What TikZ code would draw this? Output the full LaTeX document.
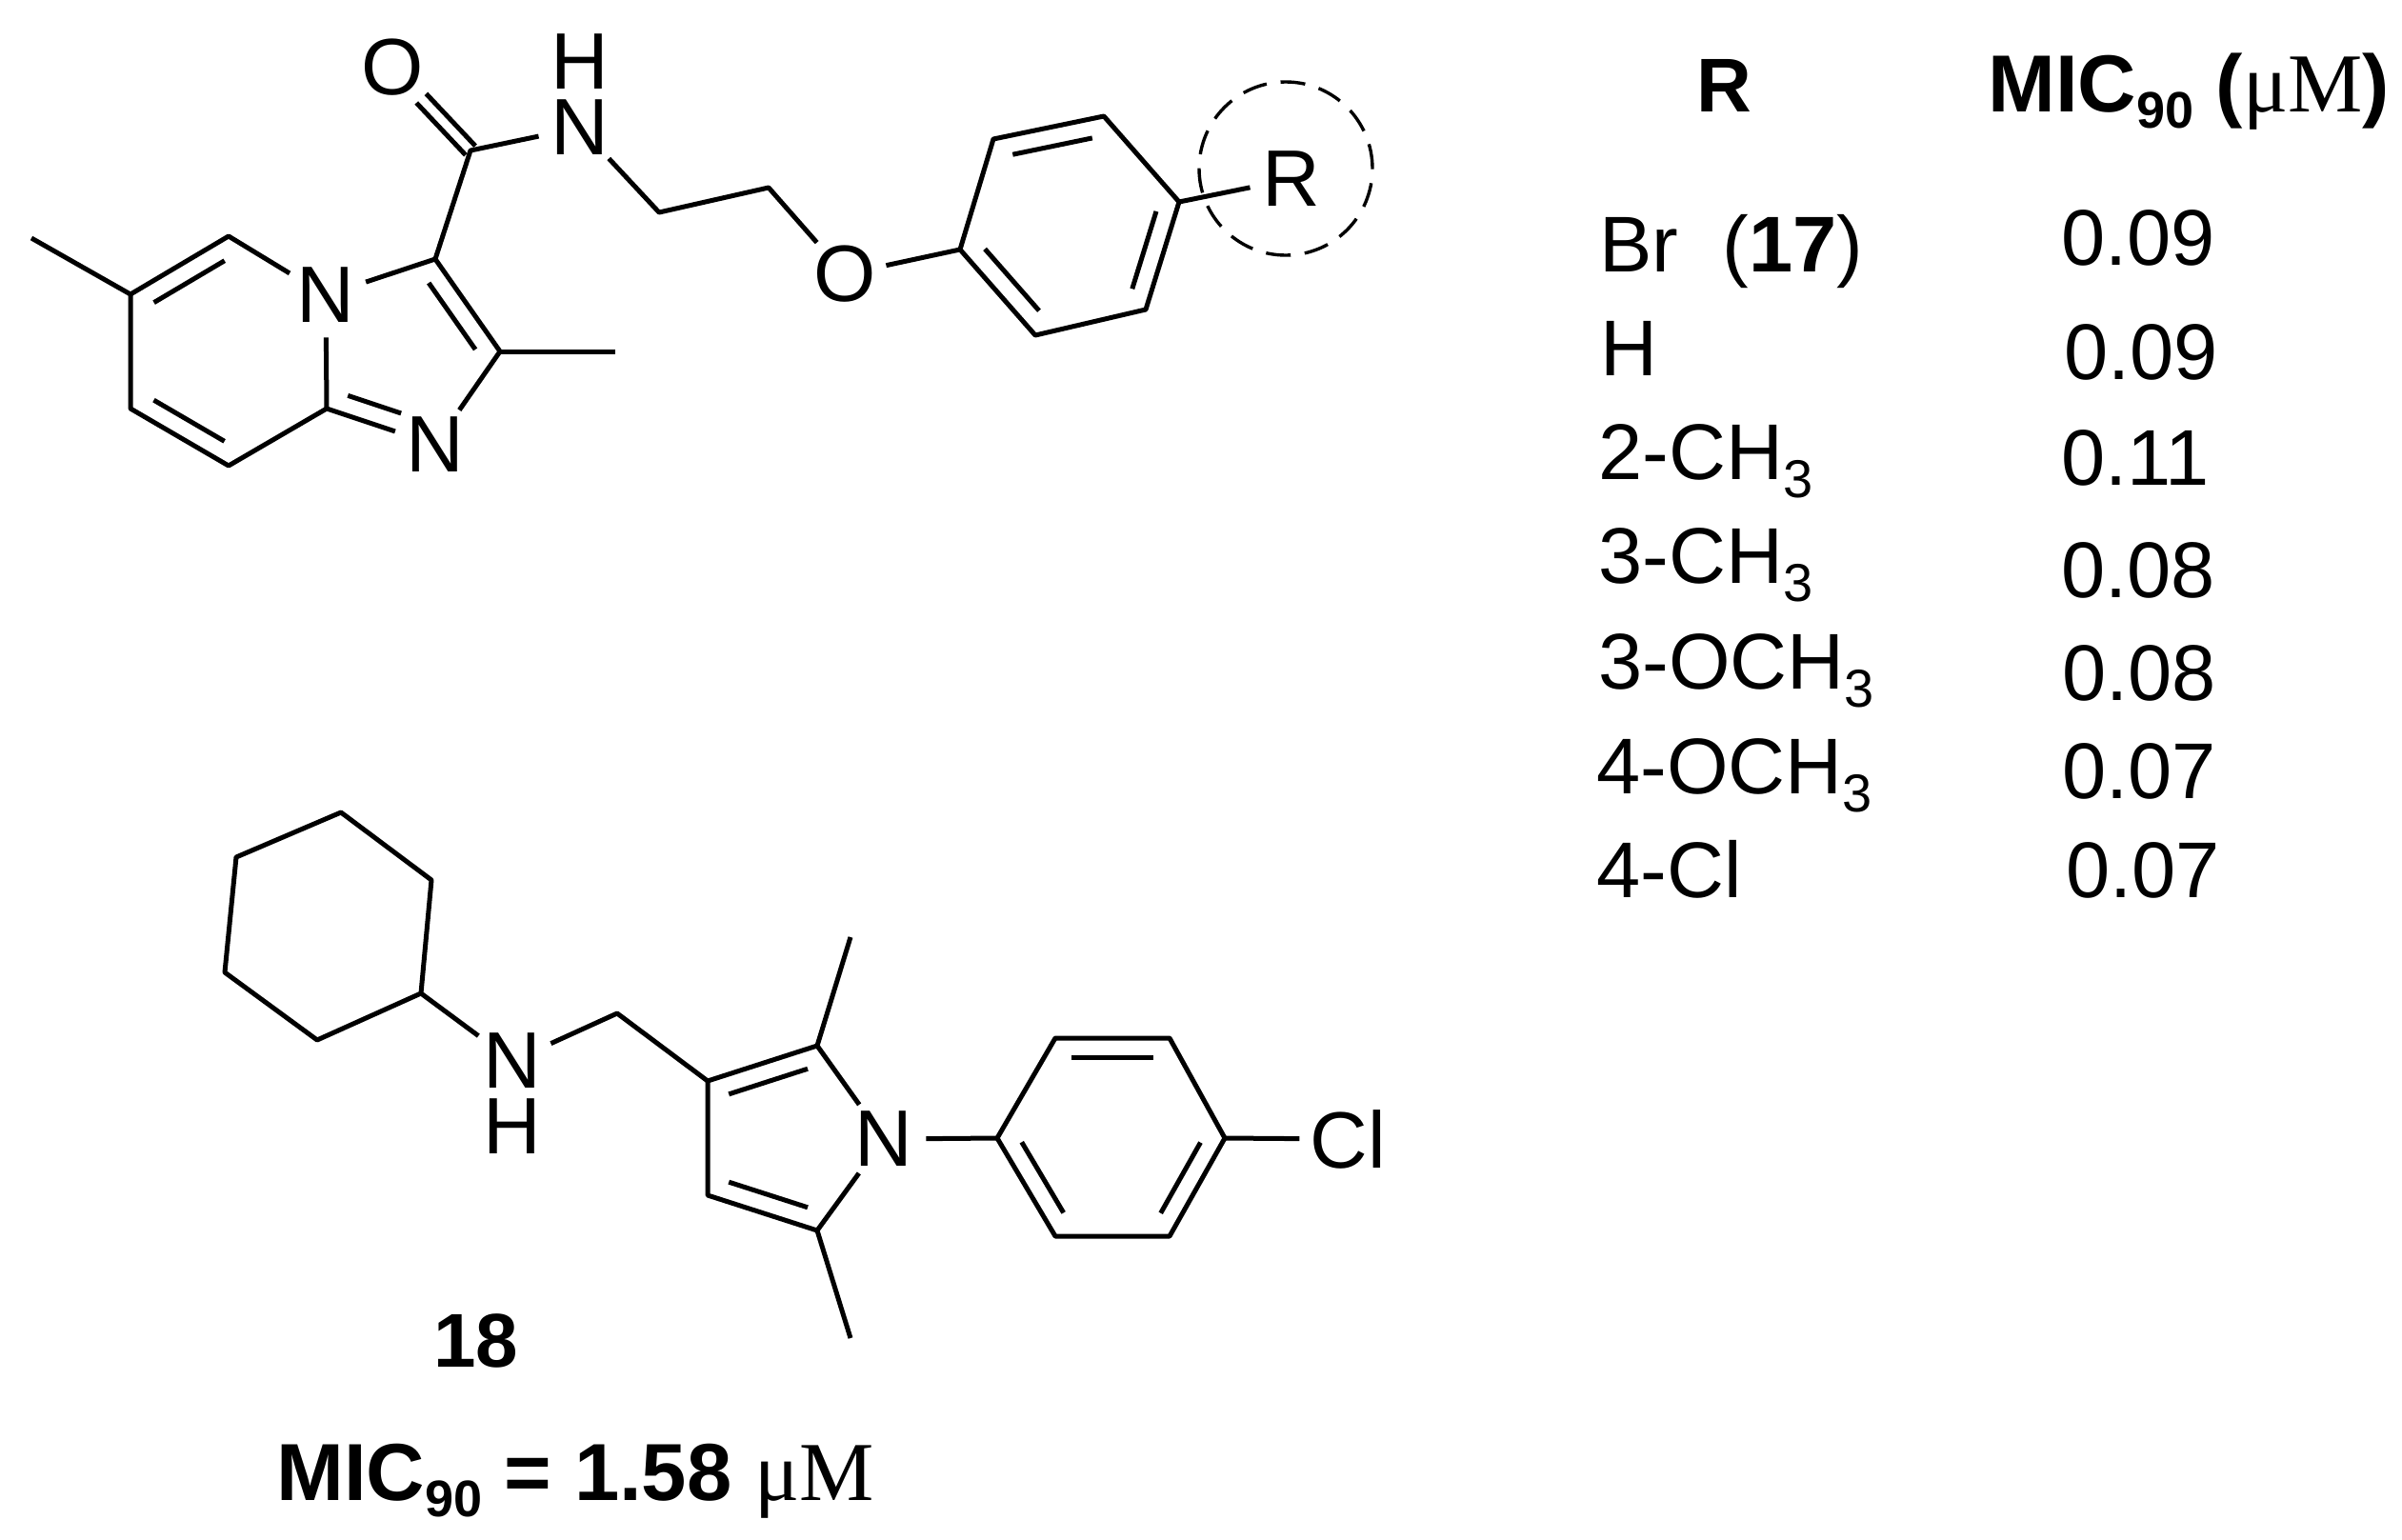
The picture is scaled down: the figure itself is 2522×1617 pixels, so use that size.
\documentclass[tikz,border=0pt]{standalone}
\usepackage{fontspec}
\setmainfont{Liberation Sans}
\newfontfamily\serifgreek{Liberation Serif}
\usetikzlibrary{calc}
\newcommand\sbs[1]{\raisebox{-9.5pt}{\fontsize{28}{30}\selectfont #1}}
\newcommand\bsbs[1]{\raisebox{-8.5pt}{\fontsize{27}{30}\selectfont\bfseries #1}}
\newcommand\mum{{\serifgreek\mdseries\fontsize{44}{48}\selectfont μM}}
\newcommand\bondR[2]{\draw[bond] ($(#1)!.14!(#2)!10pt!-90:(#2)$) -- ($(#2)!.14!(#1)!10pt!90:(#1)$);}
\tikzset{
  bond/.style={line width=2.5pt,line join=round,line cap=butt,black},
  atomlabel/.style={circle,inner sep=0pt,minimum size=44pt,font=\fontsize{42}{48}\selectfont},
  hlabel/.style={inner sep=0pt,font=\fontsize{42}{48}\selectfont},
  tabtext/.style={anchor=base west,inner sep=0pt,font=\fontsize{41.5}{48}\selectfont},
  headtext/.style={anchor=base west,inner sep=0pt,font=\fontsize{42.5}{48}\selectfont\bfseries},
  headshort/.style={anchor=base,inner sep=0pt,font=\fontsize{40}{48}\selectfont\bfseries},
  dashring/.style={line width=1.7pt,dash pattern=on 13pt off 7.4pt}
}
\begin{document}
\begin{tikzpicture}[x=.5pt,y=-.5pt]
\useasboundingbox[fill=white] (0,0) rectangle (2522,1617);
% upper molecule
\coordinate (me6) at (33,250);
\coordinate (c6) at (137,309);
\coordinate (c5) at (240,248);
\node[atomlabel] (n4) at (342,310) {N};
\coordinate (c8a) at (343,429);
\coordinate (c7) at (137,429);
\coordinate (c8) at (240,489);
\node[atomlabel] (n1) at (457,467) {N};
\coordinate (c2) at (525,369);
\coordinate (me2) at (646,369);
\coordinate (c3) at (457,272);
\coordinate (co) at (494,158);
\node[atomlabel] (ox) at (412,71) {O};
\node[atomlabel] (nh) at (609,134) {N};
\node[hlabel] (hh) at (609,65) {H};
\coordinate (ch1) at (692,223);
\coordinate (ch2) at (807,197);
\node[atomlabel] (oe) at (887,288) {O};
\coordinate (a1) at (1008,262);
\coordinate (a2) at (1043,146);
\coordinate (a3) at (1159,122);
\coordinate (a4) at (1238,212);
\coordinate (a5) at (1203,325);
\coordinate (a6) at (1087,352);
\node[atomlabel] (rr) at (1356,188) {R};
\node[draw,circle,dashring,inner sep=0pt,minimum size=91pt] (ringmark) at (1350,177) {};
\draw[bond] (me6) -- (c6) -- (c5) -- (n4);
\draw[bond] (c6) -- (c7) -- (c8) -- (c8a) -- (n4);
\draw[bond] (n4) -- (c3) -- (c2) -- (n1) -- (c8a);
\draw[bond] (c2) -- (me2);
\draw[bond] (c3) -- (co) -- (nh);
\draw[bond] (nh) -- (ch1) -- (ch2) -- (oe) -- (a1);
\draw[bond] (a1) -- (a2) -- (a3) -- (a4) -- (a5) -- (a6) -- cycle;
\draw[bond] (a4) -- (rr);
\bondR{c6}{c5}
\bondR{c8}{c7}
\bondR{c3}{c2}
\bondR{a2}{a3}
\bondR{a4}{a5}
\bondR{a6}{a1}
\draw[bond] ($(c8a)!.14!(n1)!10pt!90:(n1)$) -- ($(n1)!.37!(c8a)!10pt!-90:(c8a)$);
\draw[bond] ($(co)!3.5pt!90:(ox)$) -- ($(ox)!.37!(co)!3.5pt!-90:(co)$);
\draw[bond] ($(co)!3.5pt!-90:(ox)$) -- ($(ox)!.37!(co)!3.5pt!90:(co)$);
% lower molecule
\coordinate (h1) at (358,853);
\coordinate (h2) at (453,924);
\coordinate (h3) at (442,1043);
\coordinate (h4) at (333,1092);
\coordinate (h5) at (236,1021);
\coordinate (h6) at (248,900);
\node[atomlabel] (nb) at (538,1114) {N};
\node[hlabel] (hb) at (538,1183) {H};
\coordinate (mb) at (648,1064);
\coordinate (p3) at (743,1135);
\coordinate (p2) at (858,1098);
\node[atomlabel] (pn) at (928,1196) {N};
\coordinate (p5) at (858,1292);
\coordinate (p4) at (743,1255);
\coordinate (m2) at (893,984);
\coordinate (m5) at (893,1405);
\coordinate (b1) at (1047,1195);
\coordinate (b2) at (1108,1090);
\coordinate (b3) at (1228,1090);
\coordinate (b4) at (1286,1195);
\coordinate (b5) at (1228,1298);
\coordinate (b6) at (1108,1298);
\node[atomlabel] (cl) at (1415,1196) {Cl};
\draw[bond] (h1) -- (h2) -- (h3) -- (h4) -- (h5) -- (h6) -- cycle;
\draw[bond] (h3) -- (nb) -- (mb) -- (p3);
\draw[bond] (p3) -- (p2) -- (pn) -- (p5) -- (p4) -- (p3);
\draw[bond] (p2) -- (m2);
\draw[bond] (p5) -- (m5);
\draw[bond] (pn) -- (b1);
\draw[bond] (b1) -- (b2) -- (b3) -- (b4) -- (b5) -- (b6) -- cycle;
\draw[bond] (b4) -- (cl);
\bondR{p3}{p2}
\bondR{p5}{p4}
\bondR{b2}{b3}
\bondR{b4}{b5}
\bondR{b6}{b1}
% captions
\node[headshort] (cmpd) at (500,1435) {18};
\node[headtext] (micb) at (290,1575) {MIC\bsbs{90} = 1.58 \mum};
% table
\node[headshort] (hr) at (1810,117) {R};
\node[headtext] (hm) at (2087,117) {MIC\bsbs{90} (\mum)};
\node[tabtext] (r1) at (1679,285) {Br\ \ (\textbf{17})};
\node[tabtext] (r2) at (1680,394) {H};
\node[tabtext] (r3) at (1678,503) {2-CH\sbs{3}};
\node[tabtext] (r4) at (1678,612) {3-CH\sbs{3}};
\node[tabtext] (r5) at (1678,723) {3-OCH\sbs{3}};
\node[tabtext] (r6) at (1676,833) {4-OCH\sbs{3}};
\node[tabtext] (r7) at (1676,942) {4-Cl};
\node[tabtext] (v1) at (2164,278) {0.09};
\node[tabtext] (v2) at (2167,398) {0.09};
\node[tabtext] (v3) at (2164,509) {0.11};
\node[tabtext] (v4) at (2164,627) {0.08};
\node[tabtext] (v5) at (2165,735) {0.08};
\node[tabtext] (v6) at (2165,838) {0.07};
\node[tabtext] (v7) at (2169,942) {0.07};
\end{tikzpicture}
\end{document}
